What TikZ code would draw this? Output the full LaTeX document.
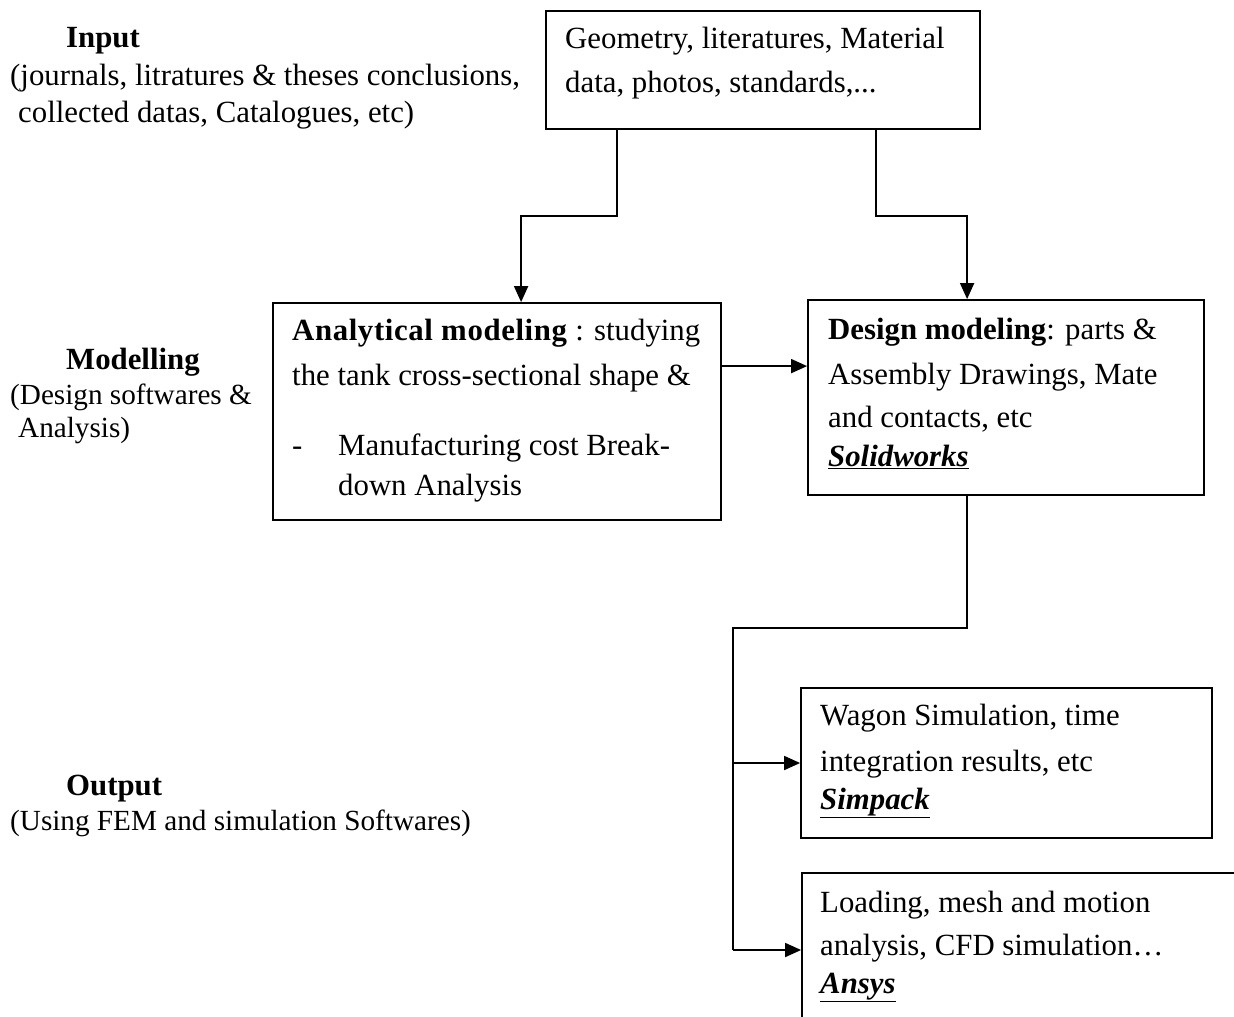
\documentclass[tikz,border=0pt]{standalone}
\usepackage{fontspec}
\setmainfont{Liberation Serif}
\usetikzlibrary{arrows.meta}
\tikzset{
  box/.style={draw, line width=1.8pt, rectangle, inner sep=0pt},
  txt/.style={anchor=base west, inner sep=0pt, font=\fontsize{30.8}{44}\selectfont},
  stxt/.style={anchor=base west, inner sep=0pt, font=\fontsize{29.2}{40}\selectfont},
  arr/.style={line width=1.8pt, -{Triangle[length=16pt,width=14pt]}},
  ln/.style={line width=1.8pt},
}
\newcommand{\sw}[1]{\underline{\textbf{\textit{#1}}}}
\begin{document}
\begin{tikzpicture}[x=1pt,y=-1pt]
\clip (0,0) rectangle (1234,1017);
\fill[white] (0,0) rectangle (1234,1017);
% boxes
\node[box, minimum width=434pt, minimum height=118pt] (top) at (763,70) {};
\node[box, minimum width=448pt, minimum height=217pt] (anal) at (497,411.5) {};
\node[box, minimum width=396pt, minimum height=195pt] (des) at (1006,397.5) {};
\node[box, minimum width=411pt, minimum height=150pt] (sim) at (1006.5,763) {};
\node[box, minimum width=460pt, minimum height=170pt] (ans) at (1032,958) {};
% box texts
\node[txt] (t1) at (565,48) {Geometry, literatures, Material};
\node[txt] (t2) at (565,92) {data, photos, standards,...};
\node[txt] (a1) at (292,340) {{\addfontfeature{LetterSpace=2}\textbf{Analytical modeling}} : studying};
\node[txt] (a2) at (292,385) {the tank cross-sectional shape \&};
\node[txt] (a3) at (292,455) {-};
\node[txt] (a4) at (338,455) {Manufacturing cost Break-};
\node[txt] (a5) at (338,495) {down Analysis};
\node[txt] (d1) at (828,339) {\textbf{Design modeling}: parts \&};
\node[txt] (d2) at (828,384) {Assembly Drawings, Mate};
\node[txt] (d3) at (828,427) {and contacts, etc};
\node[txt] (d4) at (828,466) {\sw{Solidworks}};
\node[txt] (s1) at (820,725) {Wagon Simulation, time};
\node[txt] (s2) at (820,771) {integration results, etc};
\node[txt] (s3) at (820,809) {\sw{Simpack}};
\node[txt] (n1) at (820,912) {Loading, mesh and motion};
\node[txt] (n2) at (820,955) {analysis, CFD simulation\dots};
\node[txt] (n3) at (820,993) {\sw{Ansys}};
% left labels
\node[txt] (in1) at (66,47) {\textbf{Input}};
\node[txt] (in2) at (10,85) {(journals, litratures \& theses conclusions,};
\node[txt] (in3) at (18,122) {collected datas, Catalogues, etc)};
\node[txt] (m1) at (66,369) {\textbf{Modelling}};
\node[stxt] (m2) at (10,404) {(Design softwares \&};
\node[stxt] (m3) at (18,437) {Analysis)};
\node[txt] (o1) at (66,795) {\textbf{Output}};
\node[stxt] (o2) at (10,830) {(Using FEM and simulation Softwares)};
% connectors
\draw[arr] ([xshift=72pt]top.south west) -- ++(0,86) -| ([xshift=249pt]anal.north west);
\draw[arr] ([xshift=331pt]top.south west) -- ++(0,86) -| ([xshift=160pt]des.north west);
\draw[arr] ([yshift=-64pt]anal.north east) coordinate (h1) -- (h1 -| des.west);
\coordinate (j1) at (733,628);
\coordinate (j2) at (733,763);
\coordinate (j3) at (733,950);
\draw[ln] ([xshift=160pt]des.south west) |- (j1) -- (j3);
\draw[arr] (j2) -- (j2 -| sim.west);
\draw[arr] (j3) -- (j3 -| ans.west);
\end{tikzpicture}
\end{document}
